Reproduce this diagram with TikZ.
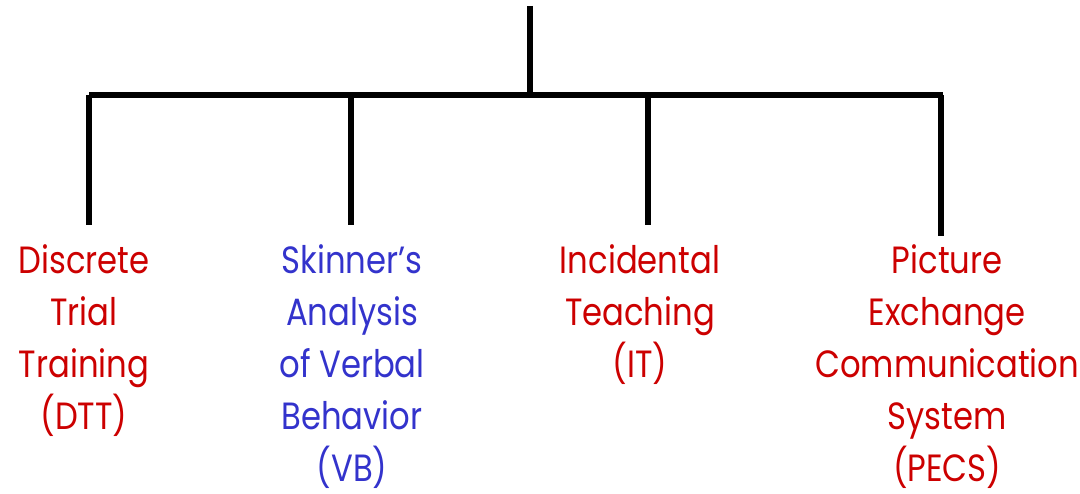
\documentclass[tikz,border=0pt]{standalone}
\usepackage{fontspec}
\setmainfont{Poppins}[FakeStretch=0.85]
\usepackage{tikz}

\definecolor{methodred}{RGB}{204,0,0}
\definecolor{methodblue}{RGB}{51,51,204}

\tikzset{
  branch/.style={line width=3.6pt, black},
  method/.style={align=center, anchor=north, inner sep=0pt,
    font=\fontsize{27}{37}\selectfont}
}

\begin{document}
\begin{tikzpicture}
  \useasboundingbox (0,0) rectangle (27,12.325);

  % tree skeleton
  \coordinate (root) at (13.25,12.175);
  \coordinate (hub) at (13.25,9.95);
  \coordinate (barL) at (2.225,9.95);
  \coordinate (barR) at (23.575,9.95);
  \coordinate (joinVB) at (8.775,9.95);
  \coordinate (joinIT) at (16.2,9.95);
  \coordinate (joinPECS) at (23.525,9.95);

  % branch ends, just above the labels
  \coordinate (endDTT) at (2.225,6.7);
  \coordinate (endVB) at (8.775,6.7);
  \coordinate (endIT) at (16.2,6.7);
  \coordinate (endPECS) at (23.525,6.425);

  % methods
  \node[method, text=methodred] (dtt) at (2.1,6.22) {Discrete\\Trial\\Training\\(DTT)};
  \node[method, text=methodblue] (vb) at (8.8,6.22) {Skinner’s\\Analysis\\of Verbal\\Behavior\\(VB)};
  \node[method, text=methodred] (it) at (16.0,6.22) {Incidental\\Teaching\\(IT)};
  \node[method, text=methodred] (pecs) at (23.68,6.22) {Picture\\Exchange\\Communication\\System\\(PECS)};

  \draw[branch] (root) -- (hub);
  \draw[branch] (barL) -- (barR);
  \draw[branch] (barL) -- (endDTT);
  \draw[branch] (joinVB) -- (endVB);
  \draw[branch] (joinIT) -- (endIT);
  \draw[branch] (joinPECS) -- (endPECS);
\end{tikzpicture}
\end{document}
